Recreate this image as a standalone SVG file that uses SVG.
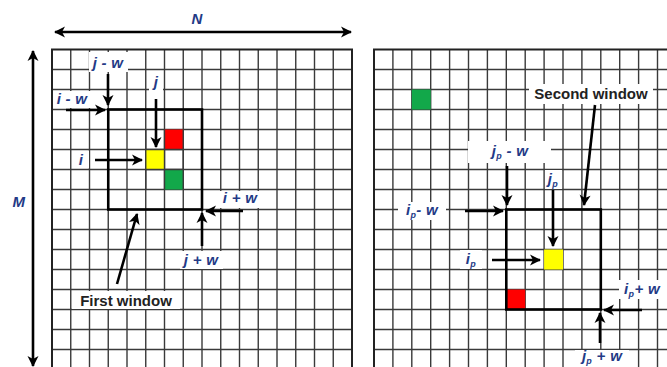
<svg xmlns="http://www.w3.org/2000/svg" width="667" height="367" viewBox="0 0 667 367">
  <style>
    .grid { stroke: #3a3a3a; stroke-width: 1.4; fill: none; }
    .border { stroke: #222; stroke-width: 2; fill: none; }
    .win { stroke: #000; stroke-width: 2.6; fill: none; }
    .mask { fill: #fff; }
    .lbl { font-family: "Liberation Sans", Arial, sans-serif; font-weight: bold; font-style: italic; font-size: 15px; fill: #233a86; text-anchor: middle; letter-spacing: 0.3px; }
    .cap { font-family: "Liberation Sans", Arial, sans-serif; font-weight: bold; font-size: 15px; fill: #222; text-anchor: middle; }
    .arr { stroke: #000; stroke-width: 2.6; fill: none; marker-end: url(#head); }
    .dbl { stroke: #000; stroke-width: 2.6; fill: none; marker-start: url(#headStart); marker-end: url(#head); }
  </style>
  <defs>
    <marker id="head" markerUnits="userSpaceOnUse" markerWidth="14" markerHeight="14" viewBox="0 0 14 14" refX="12" refY="7" orient="auto">
      <path d="M2,1.5 L13,7 L2,12.5 L5,7 Z" fill="#000"/>
    </marker>
    <marker id="headStart" markerUnits="userSpaceOnUse" markerWidth="14" markerHeight="14" viewBox="0 0 14 14" refX="2" refY="7" orient="auto">
      <path d="M12,1.5 L1,7 L12,12.5 L9,7 Z" fill="#000"/>
    </marker>
  </defs>
  <rect width="667" height="367" fill="#fff"/>

  <!-- left grid: 16 columns x 20px rows -->
  <g id="grid-left">
    <path class="grid" d="M70.75,49.5V370 M89.5,49.5V370 M108.25,49.5V370 M127,49.5V370 M145.75,49.5V370 M164.5,49.5V370 M183.25,49.5V370 M202,49.5V370 M220.75,49.5V370 M239.5,49.5V370 M258.25,49.5V370 M277,49.5V370 M295.75,49.5V370 M314.5,49.5V370 M333.25,49.5V370
      M52,69.5H352 M52,89.5H352 M52,109.5H352 M52,129.5H352 M52,149.5H352 M52,169.5H352 M52,189.5H352 M52,209.5H352 M52,229.5H352 M52,249.5H352 M52,269.5H352 M52,289.5H352 M52,309.5H352 M52,329.5H352 M52,349.5H352"/>
    <path class="border" d="M52,370V49.5H352V370"/>
    <rect x="164.5" y="129.5" width="18.75" height="20" fill="#ff0000"/>
    <rect x="145.75" y="149.5" width="18.75" height="20" fill="#ffff00"/>
    <rect x="164.5" y="169.5" width="18.75" height="20" fill="#12a84a"/>
    <path class="grid" d="M145.75,129.5V189.5 M164.5,129.5V189.5 M183.25,129.5V189.5 M145.75,149.5H183.25 M145.75,169.5H183.25"/>
  </g>

  <!-- right grid -->
  <g id="grid-right">
    <path class="grid" d="M392.9,49.5V370 M411.8,49.5V370 M430.7,49.5V370 M449.6,49.5V370 M468.5,49.5V370 M487.4,49.5V370 M506.3,49.5V370 M525.2,49.5V370 M544.1,49.5V370 M563,49.5V370 M581.9,49.5V370 M600.8,49.5V370 M619.7,49.5V370 M638.6,49.5V370 M657.5,49.5V370
      M374,69.5H667 M374,89.5H667 M374,109.5H667 M374,129.5H667 M374,149.5H667 M374,169.5H667 M374,189.5H667 M374,209.5H667 M374,229.5H667 M374,249.5H667 M374,269.5H667 M374,289.5H667 M374,309.5H667 M374,329.5H667 M374,349.5H667"/>
    <path class="border" d="M374,370V49.5H668"/>
    <rect x="411.8" y="89.5" width="18.9" height="20" fill="#12a84a"/>
    <rect x="544.1" y="249.5" width="18.9" height="20" fill="#ffff00"/>
    <rect x="506.3" y="289.5" width="18.9" height="20" fill="#ff0000"/>
  </g>

  <!-- windows -->
  <g id="first-window">
    <rect class="win" x="108.25" y="109.5" width="93.75" height="100"/>
  </g>
  <g id="second-window">
    <rect class="win" x="506.3" y="209.5" width="94.5" height="100"/>
  </g>

  <!-- label backgrounds -->
  <g id="label-masks">
    <rect class="mask" x="89" y="52" width="39" height="20"/>
    <rect class="mask" x="53.5" y="91" width="38" height="17"/>
    <rect class="mask" x="149" y="73" width="14" height="26"/>
    <rect class="mask" x="73" y="151" width="16" height="17"/>
    <rect class="mask" x="218" y="191" width="44" height="17"/>
    <rect class="mask" x="180" y="251" width="43" height="18"/>
    <rect class="mask" x="72" y="291" width="108" height="18"/>
    <rect class="mask" x="529" y="84" width="124" height="20"/>
    <rect class="mask" x="468" y="141" width="83" height="22"/>
    <rect class="mask" x="545" y="170" width="17" height="19"/>
    <rect class="mask" x="398" y="202" width="48" height="18"/>
    <rect class="mask" x="460" y="250" width="22" height="19"/>
    <rect class="mask" x="619" y="280" width="48" height="19"/>
    <rect class="mask" x="575" y="350" width="54" height="17"/>
  </g>

  <!-- connectors -->
  <g id="connectors">
    <line class="dbl" x1="55" y1="32" x2="351" y2="32"/>
    <line class="dbl" x1="33" y1="51" x2="33" y2="366"/>
    <line class="arr" x1="108" y1="74" x2="108" y2="105"/>
    <line class="arr" x1="66" y1="110" x2="105" y2="110"/>
    <line class="arr" x1="156" y1="99" x2="156" y2="147"/>
    <line class="arr" x1="95" y1="160" x2="142" y2="160"/>
    <line class="arr" x1="243" y1="211" x2="206" y2="211"/>
    <line class="arr" x1="202" y1="246" x2="202" y2="213"/>
    <line class="arr" x1="117" y1="284" x2="137" y2="214"/>
    <line class="arr" x1="595" y1="105" x2="584" y2="205"/>
    <line class="arr" x1="507" y1="166" x2="507" y2="205"/>
    <line class="arr" x1="553" y1="190" x2="553" y2="246"/>
    <line class="arr" x1="465" y1="211" x2="503" y2="211"/>
    <line class="arr" x1="492" y1="260" x2="540" y2="260"/>
    <line class="arr" x1="642" y1="310" x2="604" y2="310"/>
    <line class="arr" x1="600" y1="343" x2="600" y2="313"/>
  </g>

  <!-- labels -->
  <g id="labels">
    <text class="lbl" x="197" y="24">N</text>
    <text class="lbl" x="19" y="207" font-size="16">M</text>
    <text class="lbl" x="108" y="68">j - w</text>
    <text class="lbl" x="72" y="104">i - w</text>
    <text class="lbl" x="156" y="87">j</text>
    <text class="lbl" x="81" y="165">i</text>
    <text class="lbl" x="240" y="203">i + w</text>
    <text class="lbl" x="201" y="265">j + w</text>
    <text class="cap" x="126" y="306">First window</text>
    <text class="cap" x="591" y="99">Second window</text>
    <text class="lbl" x="510" y="156">j<tspan font-size="9" dy="3">p</tspan><tspan dy="-3"> - w</tspan></text>
    <text class="lbl" x="553" y="184">j<tspan font-size="9" dy="3">p</tspan></text>
    <text class="lbl" x="422" y="215">i<tspan font-size="9" dy="3">p</tspan><tspan dy="-3">- w</tspan></text>
    <text class="lbl" x="471" y="264">i<tspan font-size="9" dy="3">p</tspan></text>
    <text class="lbl" x="642" y="294">i<tspan font-size="9" dy="3">p</tspan><tspan dy="-3">+ w</tspan></text>
    <text class="lbl" x="602" y="361">j<tspan font-size="9" dy="3">p</tspan><tspan dy="-3"> + w</tspan></text>
  </g>
</svg>
